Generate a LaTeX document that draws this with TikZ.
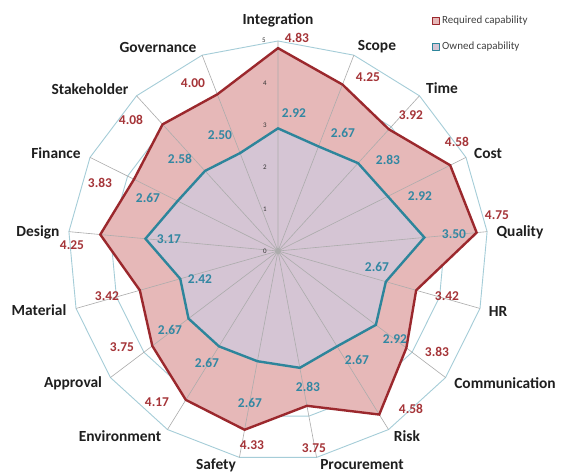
\documentclass[tikz,border=0pt]{standalone}
\usepackage{fontspec}
\setmainfont{Carlito}
\usepackage{tikz}
\usetikzlibrary{arrows,shapes}

\definecolor{reqline}{RGB}{155,40,45}
\definecolor{reqfill}{RGB}{230,184,184}
\definecolor{reqtext}{RGB}{165,52,56}
\definecolor{ownline}{RGB}{45,133,155}
\definecolor{ownfill}{RGB}{213,197,212}
\definecolor{owntext}{RGB}{50,135,162}
\definecolor{ringcol}{RGB}{165,205,216}
\definecolor{spokecol}{RGB}{172,172,172}

\begin{document}
\begin{tikzpicture}[>=latex,line join=bevel,
  ring/.style={draw=ringcol, line width=0.9bp, regular polygon, regular polygon sides=17, inner sep=0pt, outer sep=0pt},
  spoke/.style={draw=spokecol, line width=0.6bp},
  reqseries/.style={draw=reqline, line width=2.4bp, line join=miter},
  ownseries/.style={draw=ownline, line width=2.4bp, line join=miter},
  catlab/.style={font=\fontsize{15.5}{18}\selectfont\bfseries, text=black!88},
  reqval/.style={font=\fontsize{13.5}{16}\selectfont\bfseries, text=reqtext},
  ownval/.style={font=\fontsize{13.5}{16}\selectfont\bfseries, text=owntext},
  ticklab/.style={font=\fontsize{7}{8}\selectfont, text=black!80},
  keybox/.style={line width=1.3bp, minimum size=7bp, inner sep=0pt},
  keytext/.style={font=\fontsize{11}{13}\selectfont, text=black!75, anchor=west, inner sep=0pt},
]
  \fill[white] (0,0) rectangle (561bp,475bp);
  \useasboundingbox (0,0) rectangle (561bp,475bp);
%%
\begin{scope}[shift={(278bp,224bp)}]
  \coordinate (c) at (0,0);
  % Axis ends
  \coordinate (a0) at (90:210bp);      \coordinate (a1) at (68.82:210bp);
  \coordinate (a2) at (47.65:210bp);   \coordinate (a3) at (26.47:210bp);
  \coordinate (a4) at (5.29:210bp);    \coordinate (a5) at (-15.88:210bp);
  \coordinate (a6) at (-37.06:210bp);  \coordinate (a7) at (-58.24:210bp);
  \coordinate (a8) at (-79.41:210bp);  \coordinate (a9) at (-100.59:210bp);
  \coordinate (a10) at (-121.76:210bp); \coordinate (a11) at (-142.94:210bp);
  \coordinate (a12) at (-164.12:210bp); \coordinate (a13) at (-185.29:210bp);
  \coordinate (a14) at (-206.47:210bp); \coordinate (a15) at (-227.65:210bp);
  \coordinate (a16) at (-248.82:210bp);
  % Required capability
  \coordinate (r0) at (90:202.86bp);      \coordinate (r1) at (68.82:178.50bp);
  \coordinate (r2) at (47.65:164.64bp);   \coordinate (r3) at (26.47:192.36bp);
  \coordinate (r4) at (5.29:199.50bp);    \coordinate (r5) at (-15.88:143.64bp);
  \coordinate (r6) at (-37.06:160.86bp);  \coordinate (r7) at (-58.24:192.36bp);
  \coordinate (r8) at (-79.41:157.50bp);  \coordinate (r9) at (-100.59:181.86bp);
  \coordinate (r10) at (-121.76:175.14bp); \coordinate (r11) at (-142.94:157.50bp);
  \coordinate (r12) at (-164.12:143.64bp); \coordinate (r13) at (-185.29:178.50bp);
  \coordinate (r14) at (-206.47:160.86bp); \coordinate (r15) at (-227.65:171.36bp);
  \coordinate (r16) at (-248.82:168.00bp);
  % Owned capability
  \coordinate (o0) at (90:122.64bp);      \coordinate (o1) at (68.82:112.14bp);
  \coordinate (o2) at (47.65:118.86bp);   \coordinate (o3) at (26.47:122.64bp);
  \coordinate (o4) at (5.29:147.00bp);    \coordinate (o5) at (-15.88:112.14bp);
  \coordinate (o6) at (-37.06:122.64bp);  \coordinate (o7) at (-58.24:112.14bp);
  \coordinate (o8) at (-79.41:118.86bp);  \coordinate (o9) at (-100.59:112.14bp);
  \coordinate (o10) at (-121.76:112.14bp); \coordinate (o11) at (-142.94:112.14bp);
  \coordinate (o12) at (-164.12:101.64bp); \coordinate (o13) at (-185.29:133.14bp);
  \coordinate (o14) at (-206.47:112.14bp); \coordinate (o15) at (-227.65:108.36bp);
  \coordinate (o16) at (-248.82:105.00bp);
  % Rings
  \node[ring, minimum size=84bp] (ring1) at (c) {};
  \node[ring, minimum size=168bp] (ring2) at (c) {};
  \node[ring, minimum size=252bp] (ring3) at (c) {};
  \node[ring, minimum size=336bp] (ring4) at (c) {};
  \node[ring, minimum size=420bp] (ring5) at (c) {};
  % Areas
  \fill[reqfill] (r0) -- (r1) -- (r2) -- (r3) -- (r4) -- (r5) -- (r6) -- (r7) -- (r8) -- (r9) -- (r10) -- (r11) -- (r12) -- (r13) -- (r14) -- (r15) -- (r16) -- cycle;
  \fill[ownfill] (o0) -- (o1) -- (o2) -- (o3) -- (o4) -- (o5) -- (o6) -- (o7) -- (o8) -- (o9) -- (o10) -- (o11) -- (o12) -- (o13) -- (o14) -- (o15) -- (o16) -- cycle;
  % Spokes
  \draw[spoke] (c) -- (a0) (c) -- (a1) (c) -- (a2) (c) -- (a3) (c) -- (a4) (c) -- (a5)
    (c) -- (a6) (c) -- (a7) (c) -- (a8) (c) -- (a9) (c) -- (a10) (c) -- (a11)
    (c) -- (a12) (c) -- (a13) (c) -- (a14) (c) -- (a15) (c) -- (a16);
  % Series lines
  \draw[reqseries] (r0) -- (r1) -- (r2) -- (r3) -- (r4) -- (r5) -- (r6) -- (r7) -- (r8) -- (r9) -- (r10) -- (r11) -- (r12) -- (r13) -- (r14) -- (r15) -- (r16) -- cycle;
  \draw[ownseries] (o0) -- (o1) -- (o2) -- (o3) -- (o4) -- (o5) -- (o6) -- (o7) -- (o8) -- (o9) -- (o10) -- (o11) -- (o12) -- (o13) -- (o14) -- (o15) -- (o16) -- cycle;
  % Ticks
  \node[ticklab] (t0) at (-13bp,0bp) {0};
  \node[ticklab] (t1) at (-13bp,42bp) {1};
  \node[ticklab] (t2) at (-13bp,84bp) {2};
  \node[ticklab] (t3) at (-13bp,126bp) {3};
  \node[ticklab] (t4) at (-13bp,168bp) {4};
  \node[ticklab] (t5) at (-14bp,211bp) {5};
\end{scope}
  % Node: category labels
  \node[catlab] (int) at (278bp,455bp) {Integration};
  \node[catlab] (scope) at (377bp,428bp) {Scope};
  \node[catlab] (time) at (442bp,387bp) {Time};
  \node[catlab] (cost) at (488bp,322bp) {Cost};
  \node[catlab] (qual) at (520bp,243bp) {Quality};
  \node[catlab] (hr) at (498bp,164bp) {HR};
  \node[catlab] (comm) at (505bp,92bp) {Communication};
  \node[catlab] (risk) at (407bp,39bp) {Risk};
  \node[catlab] (proc) at (362bp,10bp) {Procurement};
  \node[catlab] (safe) at (216bp,10bp) {Safety};
  \node[catlab] (env) at (120bp,39bp) {Environment};
  \node[catlab] (appr) at (73bp,92bp) {Approval};
  \node[catlab] (mat) at (39bp,165bp) {Material};
  \node[catlab] (des) at (38bp,243bp) {Design};
  \node[catlab] (fin) at (56bp,322bp) {Finance};
  \node[catlab] (stake) at (90bp,386bp) {Stakeholder};
  \node[catlab] (gov) at (158bp,428bp) {Governance};
  % Node: required values
  \node[reqval] (vr0) at (297bp,437bp) {4.83};
  \node[reqval] (vr1) at (368bp,398bp) {4.25};
  \node[reqval] (vr2) at (411bp,360bp) {3.92};
  \node[reqval] (vr3) at (457bp,333bp) {4.58};
  \node[reqval] (vr4) at (497bp,260bp) {4.75};
  \node[reqval] (vr5) at (447bp,179bp) {3.42};
  \node[reqval] (vr6) at (437bp,123bp) {3.83};
  \node[reqval] (vr7) at (411bp,66bp) {4.58};
  \node[reqval] (vr8) at (314bp,27bp) {3.75};
  \node[reqval] (vr9) at (252bp,30bp) {4.33};
  \node[reqval] (vr10) at (157bp,73bp) {4.17};
  \node[reqval] (vr11) at (122bp,128bp) {3.75};
  \node[reqval] (vr12) at (107bp,179bp) {3.42};
  \node[reqval] (vr13) at (72bp,230bp) {4.25};
  \node[reqval] (vr14) at (100bp,292bp) {3.83};
  \node[reqval] (vr15) at (131bp,355bp) {4.08};
  \node[reqval] (vr16) at (193bp,392bp) {4.00};
  % Node: owned values
  \node[ownval] (vo0) at (294bp,362bp) {2.92};
  \node[ownval] (vo1) at (343bp,342bp) {2.67};
  \node[ownval] (vo2) at (388bp,315bp) {2.83};
  \node[ownval] (vo3) at (420bp,279bp) {2.92};
  \node[ownval] (vo4) at (454bp,241bp) {3.50};
  \node[ownval] (vo5) at (377bp,208bp) {2.67};
  \node[ownval] (vo6) at (395bp,136bp) {2.92};
  \node[ownval] (vo7) at (357bp,115bp) {2.67};
  \node[ownval] (vo8) at (308bp,88bp) {2.83};
  \node[ownval] (vo9) at (250bp,72bp) {2.67};
  \node[ownval] (vo10) at (207bp,112bp) {2.67};
  \node[ownval] (vo11) at (170bp,145bp) {2.67};
  \node[ownval] (vo12) at (200bp,196bp) {2.42};
  \node[ownval] (vo13) at (169bp,236bp) {3.17};
  \node[ownval] (vo14) at (148bp,277bp) {2.67};
  \node[ownval] (vo15) at (180bp,316bp) {2.58};
  \node[ownval] (vo16) at (220bp,340bp) {2.50};
  % Node: legend
  \node[keybox, draw=reqline, fill=reqfill] (keyr) at (436bp,454bp) {};
  \node[keytext] (keyrt) at (442bp,454bp) {Required capability};
  \node[keybox, draw=ownline, fill=ownfill] (keyo) at (436bp,428bp) {};
  \node[keytext] (keyot) at (442bp,428bp) {Owned capability};
%
\end{tikzpicture}
\end{document}
